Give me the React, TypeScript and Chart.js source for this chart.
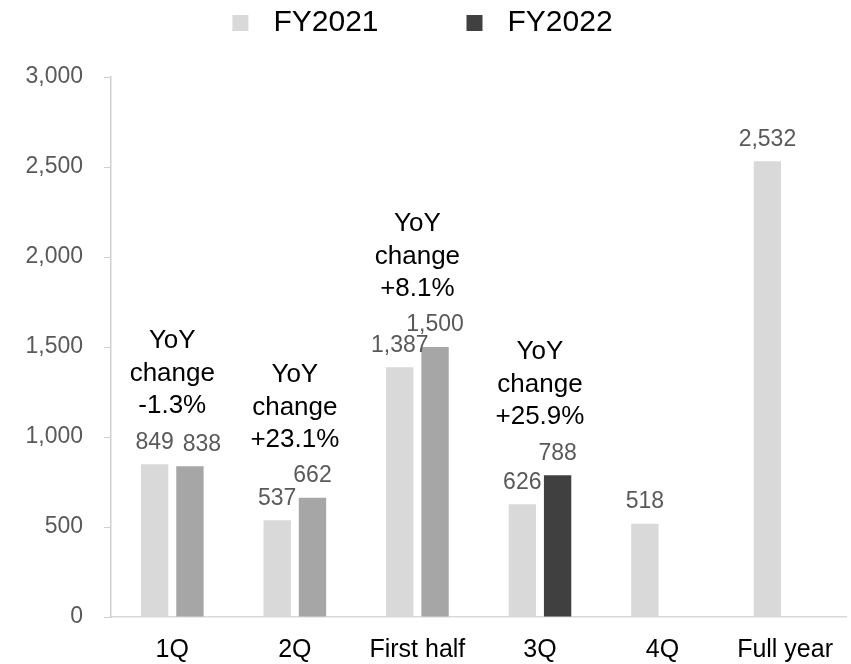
import React, { useEffect, useRef } from "react";
import { Chart, registerables } from "chart.js";
Chart.register(...registerables);

const categories = ["1Q", "2Q", "First half", "3Q", "4Q", "Full year"];
const seriesNames = ["FY2021", "FY2022"];
const fy2021 = [849, 537, 1387, 626, 518, 2532];
const fy2022 = [838, 662, 1500, 788, null, null];
const yoyChange = ["-1.3%", "+23.1%", "+8.1%", "+25.9%", null, null];
const yTicks = [0, 500, 1000, 1500, 2000, 2500, 3000];

const FONT = '"Liberation Sans", Arial, Helvetica, sans-serif';
const C_LIGHT = "#d9d9d9";
const C_MID = "#a6a6a6";
const C_DARK = "#404040";

const annotatePlugin = {
  id: "annotate",
  afterDatasetsDraw(chart: any) {
    const ctx = chart.ctx;
    const ys = chart.scales.y;
    const xs = chart.scales.x;
    ctx.save();
    // data labels
    ctx.font = `23px ${FONT}`;
    ctx.fillStyle = "#595959";
    ctx.textAlign = "center";
    ctx.textBaseline = "middle";
    chart.data.datasets.forEach((ds: any, di: number) => {
      const meta = chart.getDatasetMeta(di);
      meta.data.forEach((bar: any, i: number) => {
        const v = ds.data[i];
        if (v == null) return;
        const dx = di === 1 && i === 0 ? 12 : 0;
        ctx.fillText(Number(v).toLocaleString("en-US"), bar.x + dx, bar.y - 22);
      });
    });
    // YoY annotations
    ctx.font = `26px ${FONT}`;
    ctx.fillStyle = "#000000";
    yoyChange.forEach((t, i) => {
      if (!t) return;
      let top = Infinity;
      chart.data.datasets.forEach((ds: any) => {
        const v = ds.data[i];
        if (v != null) top = Math.min(top, ys.getPixelForValue(v));
      });
      const last = top - 22 - 36;
      const cx = xs.getPixelForValue(i);
      const lines = ["YoY", "change", t];
      lines.forEach((l, k) => ctx.fillText(l, cx, last - (2 - k) * 32.5));
    });
    // legend
    ctx.font = `30px ${FONT}`;
    ctx.textAlign = "left";
    const colors = [C_LIGHT, C_DARK];
    const items = seriesNames.map((n, i) => ({ n, c: colors[i], w: ctx.measureText(n).width }));
    const box = 16, gap = 25, between = 88;
    const total = items.reduce((s, it) => s + box + gap + it.w, 0) + between * (items.length - 1);
    let lx = chart.width / 2 - total / 2 - 3;
    const ly = 23;
    items.forEach((it) => {
      ctx.fillStyle = it.c;
      ctx.fillRect(lx, ly - 8, box, box);
      ctx.fillStyle = "#000000";
      ctx.fillText(it.n, lx + box + gap, ly);
      lx += box + gap + it.w + between;
    });
    ctx.restore();
  },
};

export default function App() {
  const ref = useRef<HTMLCanvasElement | null>(null);
  useEffect(() => {
    if (!ref.current) return;
    const chart = new Chart(ref.current, {
      type: "bar",
      data: {
        labels: categories,
        datasets: [
          {
            label: seriesNames[0],
            data: fy2021,
            backgroundColor: C_LIGHT,
            categoryPercentage: 0.576,
            barPercentage: 0.775,
          },
          {
            label: seriesNames[1],
            data: fy2022 as any,
            backgroundColor: (c: any) => (c.dataIndex === 3 ? C_DARK : C_MID),
            categoryPercentage: 0.576,
            barPercentage: 0.775,
          },
        ],
      },
      options: {
        responsive: true,
        maintainAspectRatio: false,
        animation: false,
        layout: { padding: { top: 77, left: 0, right: 0, bottom: 0 } },
        plugins: { legend: { display: false }, tooltip: { enabled: false } },
        scales: {
          x: {
            grid: { display: false, drawTicks: false },
            border: { color: "#d9d9d9", width: 1.5 },
            ticks: { color: "#000000", font: { size: 25, family: FONT }, padding: 18 },
            afterFit: (s: any) => {
              s.height = 47;
            },
          },
          y: {
            min: 0,
            max: 3000,
            afterBuildTicks: (s: any) => {
              s.ticks = yTicks.map((v) => ({ value: v }));
            },
            grid: { drawOnChartArea: false, drawTicks: true, tickLength: 7, color: "#d0d0d0" },
            border: { color: "#d0d0d0", width: 1.5 },
            ticks: {
              color: "#595959",
              font: { size: 23, family: FONT },
              padding: 21,
              callback: (v: any) => Number(v).toLocaleString("en-US"),
            },
            afterFit: (s: any) => {
              s.width = 111;
            },
          },
        },
      },
      plugins: [annotatePlugin],
    });
    return () => chart.destroy();
  }, []);
  return (
    <div style={{ position: "fixed", left: 0, top: 0, width: 851, height: 664, background: "#fff" }}>
      <canvas ref={ref} />
    </div>
  );
}
